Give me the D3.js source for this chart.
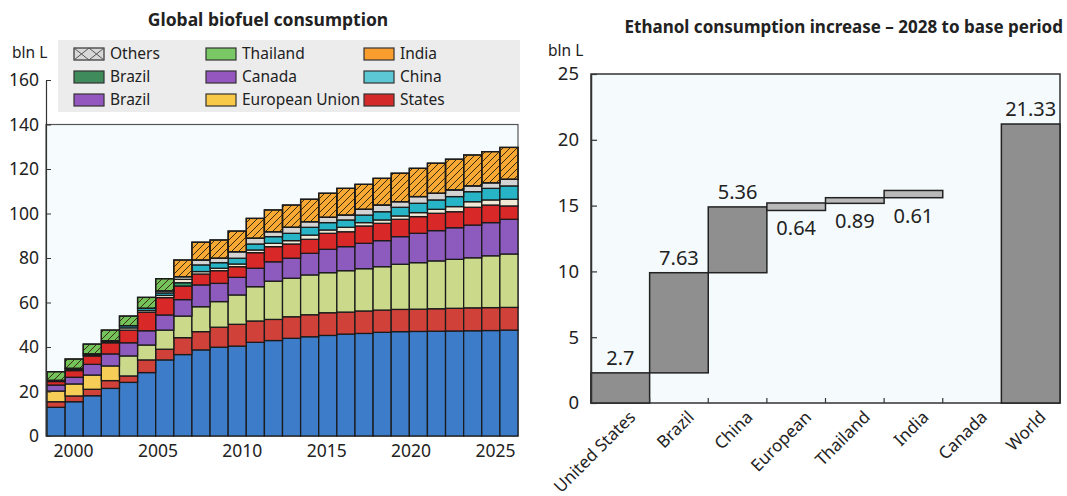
<!DOCTYPE html>
<html><head><meta charset="utf-8">
<script src="https://cdn.jsdelivr.net/npm/d3@7"></script>
<style>
body{margin:0;background:#fff;}
svg text{font-family:"Noto Sans",sans-serif;fill:#222;}
</style>
</head><body>
<svg id="c" width="1067" height="496"></svg>
<script>
// ---------------- DATA: left chart ----------------
const years = [2000,2001,2002,2003,2004,2005,2006,2007,2008,2009,2010,2011,2012,2013,2014,2015,2016,2017,2018,2019,2020,2021,2022,2023,2024,2025];
const yearTicks = [2000,2005,2010,2015,2020,2025];
const yTicksLeft = [0,20,40,60,80,100,120,140,160];
const sBlue   = [12.9,15.4,18.1,21.4,24.1,28.5,34.2,36.6,38.7,39.9,40.4,42.1,42.9,43.9,44.6,45.2,45.8,46.1,46.6,46.9,47.0,47.1,47.2,47.3,47.4,47.6];
const sRedLow = [2.5,2.6,2.9,3.5,2.9,5.7,4.8,7.6,8.2,9.0,9.8,9.6,9.5,9.7,9.9,10.2,9.9,10.1,10.0,10.0,10.0,10.1,10.2,10.3,10.3,10.2];
const sYellow = [4.8,5.4,6.4,6.6,0,0,0,0,0,0,0,0,0,0,0,0,0,0,0,0,0,0,0,0,0,0];
const sYGreen = [0,0,0,0,9.0,6.7,8.6,9.7,11.2,11.5,13.2,15.4,17.2,17.3,17.9,18.0,18.6,19.0,19.5,20.3,20.9,21.5,22.0,22.5,23.3,24.0];
const sPurple = [2.7,3.0,4.8,5.4,5.9,6.4,6.8,7.4,9.8,8.2,7.9,8.3,8.7,9.0,9.7,10.5,10.8,11.4,11.7,12.4,13.2,13.6,14.2,14.7,14.9,15.6];
const sRedUp  = [1.6,3.0,3.8,5.0,5.7,8.3,7.8,6.1,4.9,5.7,4.8,7.0,6.8,6.4,6.3,7.2,6.7,7.8,7.8,7.8,7.5,7.8,7.2,8.0,7.9,6.0];
const sDGreen = [0,0,0,0,0,0,0,1.5,0,0,0,0,0,0,0,0,0,0,0,0,0,0,0,0,0,0];
const sCream  = [0.3,0.5,0.4,0.3,1.0,0.8,1.0,1.5,1.1,1.1,1.2,1.2,1.5,1.5,1.9,1.5,2.0,1.5,1.5,1.5,1.8,1.8,2.3,2.5,2.3,3.0];
const sCyan   = [0.2,0.5,0.5,0.6,1.0,1.0,1.1,0,3.0,2.5,2.6,2.7,3.0,3.3,3.5,3.3,3.3,3.4,3.7,3.9,4.2,4.2,4.5,4.5,5.2,6.0];
const sGrey   = [0,0,0,0,0,0,0.9,1.2,2.2,2.0,2.9,2.6,2.2,2.7,2.5,2.4,2.2,2.6,3.0,2.5,3.0,3.0,3.0,2.6,2.5,3.0];
const sGreenH = [3.9,4.2,4.4,4.8,4.3,4.9,5.5,0,0,0,0,0,0,0,0,0,0,0,0,0,0,0,0,0,0,0];
const sOrangeH= [0,0,0,0,0,0,0,7.5,8.0,8.2,9.3,8.9,9.8,10.0,10.1,10.8,12.0,11.2,12.0,12.8,12.7,13.5,13.8,13.9,14.0,14.3];
const legendLabels = ["Others","Brazil","Brazil","Thailand","Canada","European Union","India","China","States"];

// ---------------- DATA: right chart ----------------
const ethCats   = ["United States","Brazil","China","European","Thailand","India","Canada","World"];
const ethLabels = ["2.7","7.63","5.36","0.64","0.89","0.61","","21.33"];
const ethLow    = [0,2.29,9.9,14.63,15.17,15.6,null,0];
const ethHigh   = [2.29,9.9,14.9,15.2,15.6,16.15,null,21.2];
const yTicksRight = [0,5,10,15,20,25];

// ---------------- drawing ----------------
const svg = d3.select("#c");
const defs = svg.append("defs");
defs.append("pattern").attr("id","hatch").attr("patternUnits","userSpaceOnUse")
  .attr("width",7).attr("height",7)
  .append("path").attr("d","M-1,1 l2,-2 M0,7 l7,-7 M6,8 l2,-2")
  .attr("stroke","#3b2a12").attr("stroke-width",1);

// ===== LEFT CHART =====
svg.append("text").attr("x",268).attr("y",26).attr("text-anchor","middle")
  .attr("font-size",17.5).attr("font-weight","bold").text("Global biofuel consumption");
svg.append("text").attr("x",12).attr("y",58).attr("font-size",15.5).text("bln L");

const yL = d3.scaleLinear().domain([0,160]).range([436,80]);
const xL = d3.scaleBand().domain(years).range([47,518]).padding(0);
const xLab = d3.scaleLinear().domain([2000,2025]).range([73,495]);

svg.append("rect").attr("x",58).attr("y",40).attr("width",462).attr("height",72).attr("fill","#ececec");
svg.append("rect").attr("x",46).attr("y",yL(140)).attr("width",472).attr("height",yL(0)-yL(140))
  .attr("fill","#f6fbfd").attr("stroke","#555").attr("stroke-width",1.2);

const keys = ["blue","redLow","yellow","ygreen","purple","redUp","dgreen","cream","cyan","grey","greenH","orangeH"];
const fills = {blue:"#3d7cc9",redLow:"#d0413a",yellow:"#f6cd57",ygreen:"#cbd98b",purple:"#8d5abd",
  redUp:"#d92828",dgreen:"#2a9c6a",cream:"#efe9d6",cyan:"#27b4c6",grey:"#d3d3d3",greenH:"#74c35a",orangeH:"#f8a934"};
const hatched = {greenH:true, orangeH:true};
const seriesArr = [sBlue,sRedLow,sYellow,sYGreen,sPurple,sRedUp,sDGreen,sCream,sCyan,sGrey,sGreenH,sOrangeH];
const table = years.map((y,i)=>{const o={year:y}; keys.forEach((k,j)=>o[k]=seriesArr[j][i]); return o;});
const stacked = d3.stack().keys(keys)(table);

const gBars = svg.append("g");
stacked.forEach(s=>{
  const segs = s.filter(d=>d[1]-d[0]>0);
  gBars.selectAll(null).data(segs).enter().append("rect")
    .attr("x",d=>xL(d.data.year)).attr("width",xL.bandwidth())
    .attr("y",d=>yL(d[1])).attr("height",d=>yL(d[0])-yL(d[1]))
    .attr("fill",fills[s.key]).attr("stroke","#1b1b1b").attr("stroke-width",1.3);
  if(hatched[s.key]){
    gBars.selectAll(null).data(segs).enter().append("rect")
      .attr("x",d=>xL(d.data.year)).attr("width",xL.bandwidth())
      .attr("y",d=>yL(d[1])).attr("height",d=>yL(d[0])-yL(d[1]))
      .attr("fill","url(#hatch)").attr("stroke","#1b1b1b").attr("stroke-width",1.3);
  }
});

const axL = svg.append("g").attr("transform","translate(46,0)")
  .call(d3.axisLeft(yL).tickValues(yTicksLeft).tickSize(-5).tickSizeOuter(0).tickPadding(7));
axL.select(".domain").attr("stroke","#333").attr("stroke-width",1.2);
axL.selectAll(".tick line").attr("stroke","#333");
axL.selectAll(".tick text").attr("font-size",17.5).attr("fill","#222").style("font-family","'Noto Sans',sans-serif");
const axB = svg.append("g").attr("transform","translate(0,436)")
  .call(d3.axisBottom(xLab).tickValues(yearTicks).tickFormat(d3.format("d")).tickSize(0).tickPadding(9));
axB.select(".domain").remove();
axB.selectAll(".tick text").attr("font-size",17.5).attr("fill","#222").style("font-family","'Noto Sans',sans-serif");

const legFills = ["#d8d8d8","#3f8b5c","#9457c0","#79c865","#9457c0","#f8c847","#f99d2e","#5cc8d6","#d42a2a"];
const legCols = [74,206,364], legRows = [54,77,100];
legendLabels.forEach((lab,i)=>{
  const cx = legCols[Math.floor(i/3)], cy = legRows[i%3];
  const g = svg.append("g");
  g.append("rect").attr("x",cx).attr("y",cy-6).attr("width",30).attr("height",12)
    .attr("fill",legFills[i]).attr("stroke","#333").attr("stroke-width",1.2);
  if(i===0){
    g.append("path").attr("d",`M${cx},${cy-6}L${cx+15},${cy+6}M${cx+15},${cy-6}L${cx},${cy+6}M${cx+15},${cy-6}L${cx+30},${cy+6}M${cx+30},${cy-6}L${cx+15},${cy+6}`)
      .attr("stroke","#555").attr("stroke-width",1);
  }
  g.append("text").attr("x",cx+36).attr("y",cy).attr("dy","0.35em").attr("font-size",15.5).text(lab);
});

// ===== RIGHT CHART =====
svg.append("text").attr("x",1063).attr("y",33).attr("text-anchor","end")
  .attr("font-size",17).attr("font-weight","bold").text("Ethanol consumption increase \u2013 2028 to base period");
svg.append("text").attr("x",548).attr("y",56).attr("font-size",15.5).text("bln L");

const yR = d3.scaleLinear().domain([0,25]).range([403,74]);
const xR = d3.scaleBand().domain(ethCats).range([591,1060]).padding(0);

svg.append("rect").attr("x",591).attr("y",yR(25)).attr("width",469).attr("height",yR(0)-yR(25))
  .attr("fill","#f5fbfd").attr("stroke","#333").attr("stroke-width",1.5);

const ethData = ethCats.map((c,i)=>({cat:c,low:ethLow[i],high:ethHigh[i],label:ethLabels[i]}));
svg.append("g").selectAll("rect").data(ethData.filter(d=>d.low!==null)).enter().append("rect")
  .attr("x",d=>xR(d.cat)).attr("width",xR.bandwidth())
  .attr("y",d=>yR(d.high)).attr("height",d=>yR(d.low)-yR(d.high))
  .attr("fill",d=>(d.high-d.low)<1?"#b9b9b9":"#8f8f8f").attr("stroke","#222").attr("stroke-width",1.5);

svg.append("g").selectAll("text").data(ethData.filter(d=>d.label!=="")).enter().append("text")
  .attr("x",d=>xR(d.cat)+xR.bandwidth()/2)
  .attr("y",d=>(d.high-d.low)<1 ? yR(d.low)+25 : yR(d.high)-8)
  .attr("text-anchor","middle").attr("font-size",20).text(d=>d.label);

const axR = svg.append("g").attr("transform","translate(591,0)")
  .call(d3.axisLeft(yR).tickValues(yTicksRight).tickSize(-6).tickSizeOuter(0).tickPadding(12));
axR.select(".domain").attr("stroke","#333").attr("stroke-width",1.5);
axR.selectAll(".tick line").attr("stroke","#333").attr("stroke-width",1.2);
axR.selectAll(".tick text").attr("font-size",18.5).attr("fill","#222").style("font-family","'Noto Sans',sans-serif");

svg.append("g").selectAll("line").data(ethCats.slice(1,7)).enter().append("line")
  .attr("x1",d=>xR(d)).attr("x2",d=>xR(d)).attr("y1",yR(0)).attr("y2",yR(0)-5)
  .attr("stroke","#333").attr("stroke-width",1.2);

const axRB = svg.append("g").attr("transform",`translate(0,${yR(0)})`)
  .call(d3.axisBottom(xR).tickSize(0).tickPadding(0));
axRB.select(".domain").remove();
axRB.selectAll(".tick text")
  .attr("x",0).attr("y",0).attr("dy","0.35em")
  .attr("transform","translate(12,11) rotate(-45)")
  .attr("text-anchor","end").attr("font-size",17).attr("fill","#222")
  .style("font-family","'Noto Sans',sans-serif");
</script>
</body></html>
